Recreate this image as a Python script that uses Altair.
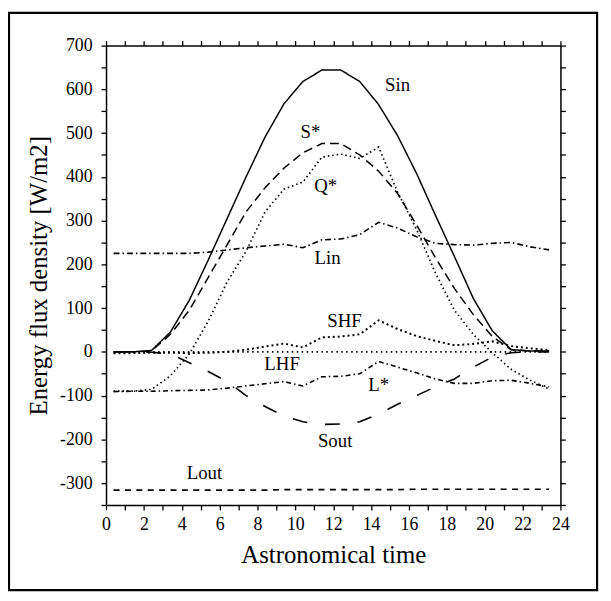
import altair as alt
import pandas as pd

FONT = "Liberation Serif"

# ---- data ----
hours = [0.4, 1.4, 2.4, 3.4, 4.4, 5.4, 6.4, 7.4, 8.4, 9.4, 10.4, 11.4,
         12.4, 13.4, 14.4, 15.4, 16.4, 17.4, 18.4, 19.4, 20.4, 21.4, 22.4, 23.4]

sin_vals = [0, 0, 3, 45, 118, 210, 305, 400, 491, 567, 618, 644,
            644, 618, 565, 494, 408, 312, 218, 122, 48, 5, 2, 2]
sstar_vals = [0, 0, 2, 40, 95, 170, 245, 320, 375, 420, 455, 476,
              476, 450, 413, 362, 290, 215, 145, 85, 35, 5, 2, 2]
sout_vals = [0, 0, -1, -5, -25, -45, -68, -100, -125, -147, -160, -166,
             -165, -160, -142, -120, -100, -80, -62, -35, -12, -2, 0, 0]
qstar_vals = [-90, -90, -86, -55, -5, 70, 160, 230, 320, 372, 388, 445,
              452, 442, 468, 365, 280, 180, 95, 40, -2, -40, -65, -85]
lin_vals = [225, 225, 225, 225, 225, 228, 233, 238, 242, 246, 238, 256,
            258, 268, 296, 283, 263, 248, 245, 244, 248, 250, 240, 233]
lstar_vals = [-91, -90, -90, -89, -88, -87, -83, -78, -73, -68, -78, -57,
              -56, -50, -22, -35, -48, -62, -72, -72, -66, -65, -72, -80]
lout_vals = [-316, -316, -316, -316, -316, -316, -316, -316, -316, -315, -315, -315,
             -315, -315, -315, -315, -314, -314, -314, -314, -314, -314, -314, -314]
shf_vals = [-3, -3, -2, -2, -3, -2, 0, 5, 12, 19, 10, 33,
            35, 40, 72, 52, 36, 25, 15, 18, 24, 13, 8, 4]
lhf_vals = [0, 0, 0, 0, 0, 0, 0, 0, 0, 0, 0, 0,
            0, 0, 0, 0, 0, 0, 0, 0, 0, 0, 0, 0]

series_names = ["Sin", "S*", "Sout", "Q*", "Lin", "L*", "Lout", "SHF", "LHF"]
series_values = [sin_vals, sstar_vals, sout_vals, qstar_vals, lin_vals,
                 lstar_vals, lout_vals, shf_vals, lhf_vals]

# line styles
series_dash = {
    "Sin": [1, 0],
    "S*": [9, 5],
    "Sout": [15, 18],
    "Q*": [1.5, 3],
    "Lin": [6, 3, 1.5, 3],
    "L*": [5, 3, 1.5, 3],
    "Lout": [6, 5.5],
    "SHF": [2, 3],
    "LHF": [1.5, 3.5],
}
series_width = {"Sin": 1.5, "S*": 1.5, "Sout": 1.6, "Q*": 1.7, "Lin": 1.6,
                "L*": 1.6, "Lout": 1.6, "SHF": 2.0, "LHF": 1.7}

# in-plot labels
label_text = ["Sin", "S*", "Q*", "Lin", "SHF", "LHF", "L*", "Sout", "Lout"]
label_t = [15.4, 10.8, 11.6, 11.7, 12.6, 9.3, 14.4, 12.1, 5.2]
label_v = [609, 503, 378, 215, 70, -28, -75, -204, -276]

x_ticks = list(range(0, 25))
y_ticks = [-350, -300, -250, -200, -150, -100, -50, 0, 50, 100, 150, 200,
           250, 300, 350, 400, 450, 500, 550, 600, 650, 700]

# ---- chart ----
xs = alt.Scale(domain=[0, 24], nice=False, zero=False)
ys = alt.Scale(domain=[-350, 700], nice=False, zero=False)

common = dict(domainColor="black", domainWidth=1.5, tickColor="black",
              tickWidth=1.3, tickSize=5, grid=False, labelFont=FONT,
              labelFontSize=18, labelColor="black", titleFont=FONT,
              titleFontSize=25, titleFontWeight="normal", titleColor="black",
              labelFlush=False, labelOverlap=False)

x_bottom = alt.Axis(orient="bottom", values=x_ticks,
                    labelExpr="datum.value % 2 === 0 ? '' + datum.value : ''",
                    title="Astronomical time", titleY=50, titleBaseline="middle",
                    labelPadding=6, **common)
y_left = alt.Axis(orient="left", values=y_ticks,
                  labelExpr="datum.value % 100 === 0 ? '' + datum.value : ''",
                  title="Energy flux density [W/m2]", titleX=-68, titleY=232,
                  titleAngle=-90, titleAlign="center", titleBaseline="middle",
                  labelPadding=9, **common)
x_top = alt.Axis(orient="top", values=x_ticks, labels=False, title=None,
                 **common)
y_right = alt.Axis(orient="right", values=y_ticks, labels=False, title=None,
                   **common)

layers = []
for i, (name, vals) in enumerate(zip(series_names, series_values)):
    d = pd.DataFrame({"t": hours, "v": vals, "series": name})
    if i == 0:
        xa, ya = x_bottom, y_left
    else:
        xa, ya = None, None
    layer = alt.Chart(d).mark_line(
        color="black", strokeWidth=series_width[name],
        strokeDash=series_dash[name]
    ).encode(
        x=alt.X("t:Q", scale=xs, axis=xa),
        y=alt.Y("v:Q", scale=ys, axis=ya),
    )
    layers.append(layer)

axes_tr = alt.Chart(pd.DataFrame({"t": hours, "v": sin_vals})).mark_point(
    opacity=0).encode(
    x=alt.X("t:Q", scale=xs, axis=x_top),
    y=alt.Y("v:Q", scale=ys, axis=y_right),
)

labels_df = pd.DataFrame({"t": label_t, "v": label_v, "label": label_text})
labels = alt.Chart(labels_df).mark_text(
    font=FONT, fontSize=19, color="black", align="center", baseline="middle"
).encode(
    x=alt.X("t:Q", scale=xs, axis=None),
    y=alt.Y("v:Q", scale=ys, axis=None),
    text="label:N",
)

frame = alt.Chart(pd.DataFrame({"a": [0]})).mark_rect(
    fill=None, stroke="black", strokeWidth=2.2
).encode(
    x=alt.value(-98), x2=alt.value(496), y=alt.value(-33), y2=alt.value(550)
)

chart = alt.layer(*layers, axes_tr, labels, frame).resolve_axis(
    x="independent", y="independent"
).properties(
    width=459, height=464,
    padding={"left": 99, "top": 35, "right": 43, "bottom": 90},
    autosize=alt.AutoSizeParams(type="none"),
    background="white",
).configure_view(stroke=None)

chart.save("out.html", embed_options={"renderer": "svg", "actions": False})
